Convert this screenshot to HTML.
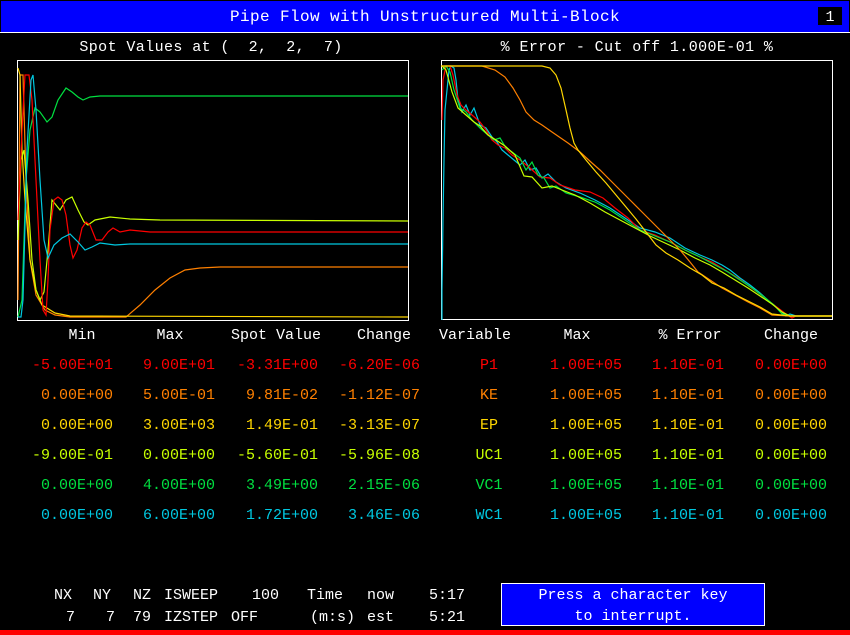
<!DOCTYPE html>
<html><head><meta charset="utf-8"><style>
html,body{margin:0;padding:0;background:#000;}
svg{display:block;}
text{font-family:"Liberation Mono",monospace;font-size:15px;white-space:pre;}
</style></head><body>
<svg width="850" height="635" viewBox="0 0 850 635" xmlns="http://www.w3.org/2000/svg" xml:space="preserve">
<rect width="850" height="635" fill="#000"/>
<rect x="1" y="1" width="848" height="31" fill="#0000ff"/>
<line x1="0" y1="32.5" x2="850" y2="32.5" stroke="#fff" stroke-width="1"/>
<text x="425" y="21" fill="#fff" text-anchor="middle" style="font-size:16px;letter-spacing:0.4px">Pipe Flow with Unstructured Multi-Block</text>
<rect x="818" y="7" width="24" height="18" fill="#000"/>
<text x="830" y="21" fill="#fff" text-anchor="middle">1</text>

<text x="211" y="51" fill="#fff" text-anchor="middle" style="letter-spacing:0.4px">Spot Values at (  2,  2,  7)</text>
<text x="637" y="51" fill="#fff" text-anchor="middle" style="letter-spacing:0.4px">% Error - Cut off 1.000E-01 %</text>

<rect x="17.5" y="60.5" width="391" height="260" fill="none" stroke="#fff"/>
<rect x="441.5" y="60.5" width="391" height="259" fill="none" stroke="#fff"/>

<g fill="none" stroke-width="1.2">
<polyline stroke="#ff8000" points="18,300 20,75 23,75 26,180 30,260 36,295 45,310 55,315 70,317 126,317 140,305 155,290 170,278 185,270 200,268 220,267 408,267"/>
<polyline stroke="#ffd700" points="18,68 20,75 22,150 25,200 30,260 36,290 42,305 55,313 70,316 408,317"/>
<polyline stroke="#00e040" points="18,317 22,300 26,180 30,130 35,108 40,112 47,122 52,117 58,100 66,88 72,92 78,97 83,100 90,97 100,96 408,96"/>
<polyline stroke="#c8ff00" points="18,240 21,160 24,150 28,200 32,260 36,290 40,300 44,292 48,250 52,200 56,205 60,210 66,200 72,197 78,210 84,222 88,225 95,220 110,217 130,219 160,220 408,221"/>
<polyline stroke="#ff0000" points="18,220 22,130 25,75 29,75 32,100 36,180 40,260 43,310 46,315 48,280 50,230 54,200 58,197 62,200 66,215 70,245 73,258 77,250 82,228 86,222 90,225 96,240 102,240 108,232 113,228 120,232 130,230 150,232 408,232"/>
<polyline stroke="#00c8e0" points="18,317 21,317 23,300 27,150 31,80 33,75 36,110 40,180 44,240 48,258 54,245 62,238 70,234 78,242 85,250 92,247 100,243 115,245 130,244 408,244"/>

<polyline stroke="#00c8e0" points="442,320 442,290 443,220 444,160 445,110 447,90 449,70 451,66 454,68 456,80 458,100 462,112 466,105 470,115 474,108 480,125 486,128 492,137 497,142 502,150 508,155 514,160 520,165 525,160 530,170 536,168 542,178 548,174 556,182 566,188 580,193 595,200 610,208 625,218 640,228 655,232 670,238 685,248 700,255 712,260 722,265 730,270 740,278 750,285 760,293 770,302 780,310 786,316 790,314 796,316 832,316"/>
<polyline stroke="#ff0000" points="442,120 443,80 446,66 450,66 453,75 457,95 461,105 466,110 472,115 480,122 486,130 492,140 498,145 505,148 512,155 520,160 530,168 540,177 550,178 560,185 575,190 590,192 603,198 615,208 628,218 640,230 655,235 670,242 685,250 700,257 712,262 725,270 738,278 750,287 760,294 770,302 778,308 786,314 792,318 796,316 832,316"/>
<polyline stroke="#00e040" points="442,70 446,66 450,72 454,90 460,108 466,112 472,120 480,128 488,135 494,140 500,138 506,148 512,152 520,158 526,170 532,162 538,175 544,178 550,188 556,186 566,193 580,197 595,202 610,210 625,220 640,230 655,236 670,242 685,250 700,257 715,265 728,272 740,280 752,288 764,297 774,305 782,314 790,316 832,316"/>
<polyline stroke="#c8ff00" points="442,66 446,70 452,92 458,108 466,115 474,122 480,126 488,135 496,140 505,146 515,155 524,176 532,177 542,188 552,186 562,190 575,195 590,203 605,212 620,220 635,228 650,236 665,243 680,250 695,258 710,265 722,272 735,280 748,288 760,296 772,304 782,312 790,316 832,316"/>
<polyline stroke="#ff8000" points="441,66 470,66 482,66 495,70 505,77 513,88 520,100 526,112 534,120 542,125 552,132 568,143 580,152 592,163 600,170 610,180 620,190 630,200 642,212 652,222 660,230 670,240 680,250 690,262 698,272 710,280 722,288 735,295 748,302 760,308 772,315 790,316 832,316"/>
<polyline stroke="#ffd700" points="441,66 542,66 550,68 556,75 561,88 566,110 570,128 574,143 578,150 586,160 596,172 606,183 616,195 626,207 636,219 646,232 656,245 666,253 678,260 690,268 702,275 712,283 724,288 736,295 748,301 760,307 772,314 790,316 832,316"/>
</g>

<g fill="#fff">
<text x="82" y="339" text-anchor="middle">Min</text>
<text x="170" y="339" text-anchor="middle">Max</text>
<text x="276" y="339" text-anchor="middle">Spot Value</text>
<text x="384" y="339" text-anchor="middle">Change</text>
<text x="475" y="339" text-anchor="middle">Variable</text>
<text x="577" y="339" text-anchor="middle">Max</text>
<text x="690" y="339" text-anchor="middle">% Error</text>
<text x="791" y="339" text-anchor="middle">Change</text>
</g>
<g text-anchor="end">
<g fill="#ff0000"><text x="113" y="369">-5.00E+01</text><text x="215" y="369">9.00E+01</text><text x="318" y="369">-3.31E+00</text><text x="420" y="369">-6.20E-06</text></g>
<g fill="#ff8000"><text x="113" y="399">0.00E+00</text><text x="215" y="399">5.00E-01</text><text x="318" y="399">9.81E-02</text><text x="420" y="399">-1.12E-07</text></g>
<g fill="#ffd700"><text x="113" y="429">0.00E+00</text><text x="215" y="429">3.00E+03</text><text x="318" y="429">1.49E-01</text><text x="420" y="429">-3.13E-07</text></g>
<g fill="#c8ff00"><text x="113" y="459">-9.00E-01</text><text x="215" y="459">0.00E+00</text><text x="318" y="459">-5.60E-01</text><text x="420" y="459">-5.96E-08</text></g>
<g fill="#00e040"><text x="113" y="489">0.00E+00</text><text x="215" y="489">4.00E+00</text><text x="318" y="489">3.49E+00</text><text x="420" y="489">2.15E-06</text></g>
<g fill="#00c8e0"><text x="113" y="519">0.00E+00</text><text x="215" y="519">6.00E+00</text><text x="318" y="519">1.72E+00</text><text x="420" y="519">3.46E-06</text></g>
</g>
<g text-anchor="middle">
<text x="489" y="369" fill="#ff0000">P1</text>
<text x="489" y="399" fill="#ff8000">KE</text>
<text x="489" y="429" fill="#ffd700">EP</text>
<text x="489" y="459" fill="#c8ff00">UC1</text>
<text x="489" y="489" fill="#00e040">VC1</text>
<text x="489" y="519" fill="#00c8e0">WC1</text>
</g>
<g text-anchor="end">
<g fill="#ff0000"><text x="622" y="369">1.00E+05</text><text x="724" y="369">1.10E-01</text><text x="827" y="369">0.00E+00</text></g>
<g fill="#ff8000"><text x="622" y="399">1.00E+05</text><text x="724" y="399">1.10E-01</text><text x="827" y="399">0.00E+00</text></g>
<g fill="#ffd700"><text x="622" y="429">1.00E+05</text><text x="724" y="429">1.10E-01</text><text x="827" y="429">0.00E+00</text></g>
<g fill="#c8ff00"><text x="622" y="459">1.00E+05</text><text x="724" y="459">1.10E-01</text><text x="827" y="459">0.00E+00</text></g>
<g fill="#00e040"><text x="622" y="489">1.00E+05</text><text x="724" y="489">1.10E-01</text><text x="827" y="489">0.00E+00</text></g>
<g fill="#00c8e0"><text x="622" y="519">1.00E+05</text><text x="724" y="519">1.10E-01</text><text x="827" y="519">0.00E+00</text></g>
</g>

<g fill="#fff">
<text x="54" y="599">NX</text><text x="93" y="599">NY</text><text x="133" y="599">NZ</text><text x="164" y="599">ISWEEP</text>
<text x="252" y="599">100</text><text x="307" y="599">Time</text><text x="367" y="599">now</text><text x="429" y="599">5:17</text>
<text x="66" y="621">7</text><text x="106" y="621">7</text><text x="133" y="621">79</text><text x="164" y="621">IZSTEP</text>
<text x="231" y="621">OFF</text><text x="310" y="621">(m:s)</text><text x="367" y="621">est</text><text x="429" y="621">5:21</text>
</g>
<rect x="501.5" y="583.5" width="263" height="42" fill="#0000ff" stroke="#fff"/>
<text x="633" y="599" fill="#fff" text-anchor="middle">Press a character key</text>
<text x="633" y="620" fill="#fff" text-anchor="middle">to interrupt.</text>
<rect x="0" y="630" width="850" height="5" fill="#ff0000"/>
</svg>
</body></html>
